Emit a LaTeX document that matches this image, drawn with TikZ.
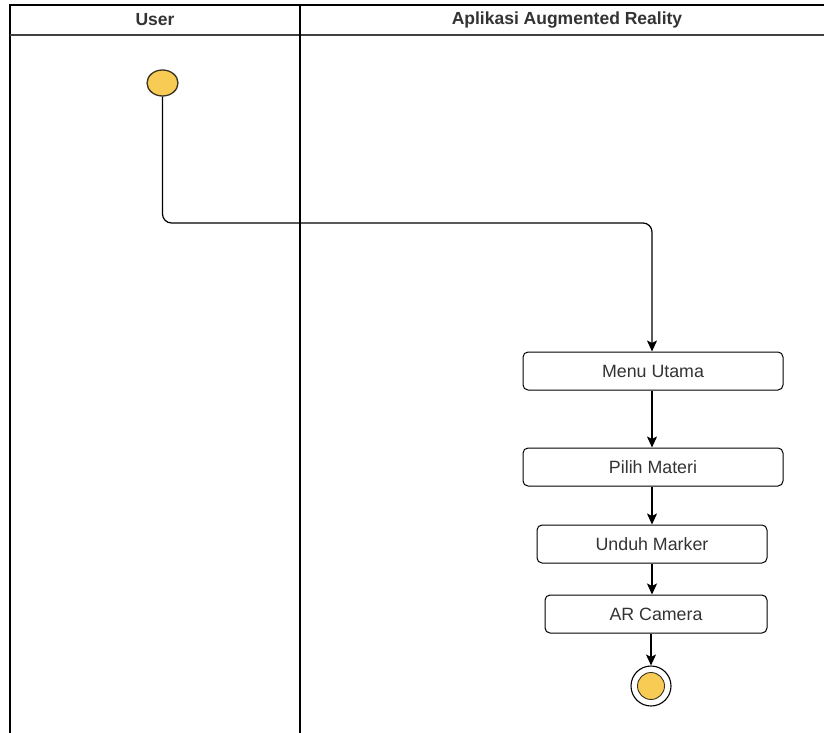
\documentclass[tikz,border=0pt]{standalone}
\usepackage{fontspec}
\setmainfont{Liberation Sans}
\usetikzlibrary{arrows.meta,shapes.geometric}

\definecolor{dotfill}{HTML}{F8CB55}
\definecolor{dotline}{HTML}{3A3322}
\definecolor{txtgray}{HTML}{333333}

\tikzset{
  lane/.style={line width=1.3pt, black},
  act/.style={draw, rounded corners=5pt, line width=1pt, minimum height=38pt,
              text=txtgray, font=\fontsize{17.8}{20}\selectfont},
  flow/.style={line width=1.2pt, -{Stealth[length=11pt,width=10pt,inset=2.5pt]}}
}

\begin{document}
\begin{tikzpicture}[x=1pt,y=-1pt]

        \useasboundingbox (0,0) rectangle (824,733);

        % swimlanes
        \draw[lane] (10,733) -- (10,5) -- (824,5);
        \draw[lane, black!75, line width=1.7pt] (10,35) -- (824,35);
        \draw[lane] (300,5) -- (300,733);

        \begin{scope}[every node/.style={text=txtgray, font=\bfseries\fontsize{17.5}{20}\selectfont}]
          \node (user)  at (155,20) {User};
          \node (app)   at (567,20) {Aplikasi Augmented Reality};
        \end{scope}

        % activities
        \node[ellipse, draw=dotline, fill=dotfill, line width=1.3pt,
              minimum width=31pt, minimum height=26pt, inner sep=0pt] (start) at (162.5,83) {};
        \node[act, minimum width=260pt] (menu)   at (653,371) {Menu Utama};
        \node[act, minimum width=260pt] (pilih)  at (653,467) {Pilih Materi};
        \node[act, minimum width=230pt] (unduh)  at (652,544) {Unduh Marker};
        \node[act, minimum width=222pt] (camera) at (656,614) {AR Camera};
        \node[circle, draw, line width=1.1pt, minimum size=40pt, inner sep=0pt,
              path picture={\fill[dotfill, draw=dotline, line width=0.9pt]
                (path picture bounding box.center) circle (13.5pt);}] (end) at (651,686) {};

        \coordinate (turn) at (652,223);

        % flow
        \draw[flow, rounded corners=9pt] (start) |- (turn) -- (menu.north -| turn);
        \draw[flow] (menu.south -| turn) -- (pilih.north -| turn);
        \draw[flow] (pilih.south -| turn) -- (unduh.north -| turn);
        \draw[flow] (unduh.south -| turn) -- (camera.north -| turn);
        \draw[flow] (camera.south -| end) -- (end);

      \end{tikzpicture}
\end{document}
